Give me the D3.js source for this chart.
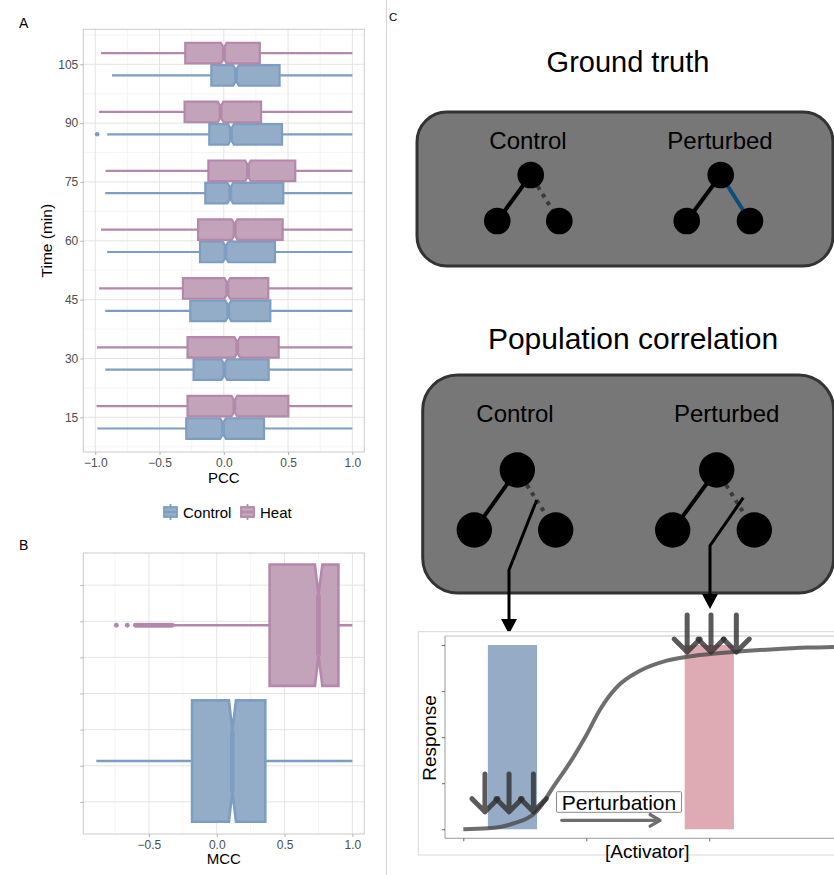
<!DOCTYPE html>
<html>
<head>
<meta charset="utf-8">
<script src="https://cdn.jsdelivr.net/npm/d3@7"></script>
<style>
  body { margin: 0; background: #fff; }
  svg { display: block; font-family: "Liberation Sans", Arial, sans-serif; }
</style>
</head>
<body>
<div id="chart"></div>
<script>
// ---- Panel A: PCC by time point (notched boxplots) ----
const times = [15, 30, 45, 60, 75, 90, 105];
const ctrlLow = [-0.984, -0.922, -0.922, -0.907, -0.922, -0.907, -0.870];
const ctrlQ1 = [-0.292, -0.235, -0.261, -0.185, -0.144, -0.113, -0.097];
const ctrlMed = [-0.006, 0.004, 0.035, 0.014, 0.050, 0.056, 0.095];
const ctrlQ3 = [0.313, 0.349, 0.362, 0.398, 0.463, 0.453, 0.434];
const ctrlHigh = [1, 1, 1, 1, 1, 1, 1];
const heatLow = [-0.990, -0.987, -0.970, -0.956, -0.920, -0.970, -0.956];
const heatQ1 = [-0.282, -0.282, -0.318, -0.200, -0.120, -0.305, -0.300];
const heatMed = [0.082, 0.105, 0.027, 0.084, 0.188, -0.025, 0.000];
const heatQ3 = [0.502, 0.427, 0.346, 0.458, 0.556, 0.290, 0.280];
const heatHigh = [1, 1, 1, 1, 1, 1, 1];
const ctrlOutTime = [90];
const ctrlOutPcc = [-0.985];

// ---- Panel B: MCC ----
const mccGroups = ['Control', 'Heat'];
const mccPos = [2.13, 5.89];
const mccLow = [-0.888, -0.320];
const mccQ1 = [-0.182, 0.390];
const mccMed = [0.115, 0.750];
const mccQ3 = [0.358, 0.897];
const mccHigh = [1.0, 1.0];
const mccNotchLo = [0.090, 0.724];
const mccNotchHi = [0.142, 0.779];
const heatMccOutliers = [-0.74, -0.66, -0.60, -0.59, -0.58, -0.57, -0.56, -0.55, -0.54, -0.53,
  -0.52, -0.51, -0.50, -0.49, -0.48, -0.47, -0.46, -0.45, -0.44, -0.43, -0.42, -0.41,
  -0.40, -0.39, -0.38, -0.37, -0.36, -0.35, -0.34, -0.33];

// ---- Panel C: dose response sketch ----
const curveX = [0, 1, 2, 3, 3.66, 4.47, 5, 5.56, 6.23, 7.18, 8.27, 9.62, 11.1, 12.5, 14.0, 15.1];
const curveY = [0, 0.005, 0.03, 0.10, 0.23, 0.39, 0.51, 0.65, 0.77, 0.86, 0.915, 0.946, 0.964, 0.976, 0.986, 0.99];
const ctrlBand = [1.0, 3.0];
const pertBand = [9.0, 11.0];
const ctrlArrowX = [0.88, 1.86, 2.85];
const pertArrowX = [9.1, 10.07, 11.1];

const colors = {
  ctrlFill: '#93acc7', ctrlStroke: '#7d9ec2',
  heatFill: '#c3a3ba', heatStroke: '#b388ab'
};

const W = 834, H = 875;
const svg = d3.select('#chart').append('svg').attr('width', W).attr('height', H);

// divider between left and right halves
svg.append('line')
  .attr('x1', 386.5).attr('x2', 386.5).attr('y1', 0).attr('y2', H)
  .attr('stroke', '#d6d6d6').attr('stroke-width', 1);

/**
 * Horizontal notched boxplot
 */
function notchBox(g, x, yc, h, s, fill, stroke, sw) {
  g.append('line')
    .attr('x1', x(s.low)).attr('x2', x(s.q1)).attr('y1', yc).attr('y2', yc)
    .attr('stroke', stroke).attr('stroke-width', sw);
  g.append('line')
    .attr('x1', x(s.q3)).attr('x2', x(s.high)).attr('y1', yc).attr('y2', yc)
    .attr('stroke', stroke).attr('stroke-width', sw);
  const p = d3.path();
  p.moveTo(x(s.q1), yc - h);
  p.lineTo(x(s.nlo), yc - h);
  p.lineTo(x(s.med), yc - h / 2);
  p.lineTo(x(s.nhi), yc - h);
  p.lineTo(x(s.q3), yc - h);
  p.lineTo(x(s.q3), yc + h);
  p.lineTo(x(s.nhi), yc + h);
  p.lineTo(x(s.med), yc + h / 2);
  p.lineTo(x(s.nlo), yc + h);
  p.lineTo(x(s.q1), yc + h);
  p.closePath();
  g.append('path').attr('d', p.toString())
    .attr('fill', fill).attr('stroke', stroke).attr('stroke-width', sw)
    .attr('stroke-linejoin', 'miter');
  g.append('line')
    .attr('x1', x(s.med)).attr('x2', x(s.med)).attr('y1', yc - h / 2).attr('y2', yc + h / 2)
    .attr('stroke', stroke).attr('stroke-width', sw * 1.8);
}

function styleAxis(g) {
  g.select('.domain').remove();
  g.selectAll('.tick line').attr('stroke', '#b3b3b3');
  g.selectAll('.tick text').attr('fill', '#4d4d4d').attr('font-size', 12)
    .attr('font-family', '"Liberation Sans", Arial, sans-serif');
}

// ================= Panel A =================
const aP = { left: 83.3, right: 364.3, top: 29.3, bottom: 452 };
const ax = d3.scaleLinear().domain([-1.093, 1.093]).range([aP.left, aP.right]);
const ay = d3.scaleLinear().domain([6.16, 113.92]).range([aP.bottom, aP.top]);
const gA = svg.append('g');

const minorX = [-0.75, -0.25, 0.25, 0.75];
const minorT = d3.range(7.5, 113, 15);
gA.selectAll('.mx').data(minorX).join('line')
  .attr('x1', d => ax(d)).attr('x2', d => ax(d)).attr('y1', aP.top).attr('y2', aP.bottom)
  .attr('stroke', '#f1f1f1').attr('stroke-width', 0.8);
gA.selectAll('.my').data(minorT).join('line')
  .attr('y1', d => ay(d)).attr('y2', d => ay(d)).attr('x1', aP.left).attr('x2', aP.right)
  .attr('stroke', '#f1f1f1').attr('stroke-width', 0.8);
gA.selectAll('.gx').data(ax.ticks(5)).join('line')
  .attr('x1', d => ax(d)).attr('x2', d => ax(d)).attr('y1', aP.top).attr('y2', aP.bottom)
  .attr('stroke', '#e4e4e4').attr('stroke-width', 1);
gA.selectAll('.gy').data(times).join('line')
  .attr('y1', d => ay(d)).attr('y2', d => ay(d)).attr('x1', aP.left).attr('x2', aP.right)
  .attr('stroke', '#e4e4e4').attr('stroke-width', 1);

const dodge = 2.85;
const aHalf = ay(0) - ay(2.62);
const aNotch = 0.022;
times.forEach((t, i) => {
  notchBox(gA, ax, ay(t - dodge), aHalf, {
    low: ctrlLow[i], q1: ctrlQ1[i], med: ctrlMed[i], q3: ctrlQ3[i], high: ctrlHigh[i],
    nlo: ctrlMed[i] - aNotch, nhi: ctrlMed[i] + aNotch
  }, colors.ctrlFill, colors.ctrlStroke, 2.2);
  notchBox(gA, ax, ay(t + dodge), aHalf, {
    low: heatLow[i], q1: heatQ1[i], med: heatMed[i], q3: heatQ3[i], high: heatHigh[i],
    nlo: heatMed[i] - aNotch, nhi: heatMed[i] + aNotch
  }, colors.heatFill, colors.heatStroke, 2.2);
});
gA.selectAll('.out').data(ctrlOutTime).join('circle')
  .attr('cx', (d, i) => ax(ctrlOutPcc[i])).attr('cy', d => ay(d - dodge))
  .attr('r', 2.3).attr('fill', colors.ctrlStroke);

gA.append('rect')
  .attr('x', aP.left).attr('y', aP.top)
  .attr('width', aP.right - aP.left).attr('height', aP.bottom - aP.top)
  .attr('fill', 'none').attr('stroke', '#cacaca').attr('stroke-width', 1);

gA.append('g').attr('transform', `translate(${aP.left},0)`)
  .call(d3.axisLeft(ay).tickValues(times).tickSize(3).tickPadding(2))
  .call(styleAxis);
gA.append('g').attr('transform', `translate(0,${aP.bottom})`)
  .call(d3.axisBottom(ax).ticks(5).tickFormat(d3.format('.1f')).tickSize(3).tickPadding(3))
  .call(styleAxis);

gA.append('text').attr('x', (aP.left + aP.right) / 2).attr('y', 483)
  .attr('text-anchor', 'middle').attr('font-size', 15).text('PCC');
gA.append('text')
  .attr('transform', `translate(52,${(aP.top + aP.bottom) / 2}) rotate(-90)`)
  .attr('text-anchor', 'middle').attr('font-size', 15.5).text('Time (min)');

// legend
const legend = [
  { name: 'Control', fill: colors.ctrlFill, stroke: colors.ctrlStroke, x: 163 },
  { name: 'Heat', fill: colors.heatFill, stroke: colors.heatStroke, x: 240 }
];
legend.forEach(l => {
  const lg = gA.append('g').attr('transform', `translate(${l.x},504)`);
  lg.append('line').attr('x1', 7.5).attr('x2', 7.5).attr('y1', 0).attr('y2', 16)
    .attr('stroke', l.stroke).attr('stroke-width', 1.8);
  lg.append('rect').attr('x', 1).attr('y', 3).attr('width', 13).attr('height', 10)
    .attr('fill', l.fill).attr('stroke', l.stroke).attr('stroke-width', 1.8);
  lg.append('line').attr('x1', 1).attr('x2', 14).attr('y1', 8).attr('y2', 8)
    .attr('stroke', l.stroke).attr('stroke-width', 1.8);
  lg.append('text').attr('x', 20).attr('y', 13.5).attr('font-size', 15).text(l.name);
});

// ================= Panel B =================
const bP = { left: 83.3, right: 364.3, top: 553, bottom: 834 };
const bx = d3.scaleLinear().domain([-0.984, 1.088]).range([bP.left, bP.right]);
const by = d3.scaleLinear().domain([0.11, 7.89]).range([bP.bottom, bP.top]);
const gB = svg.append('g');
const bGridY = [1, 2, 3, 4, 5, 6, 7];

gB.selectAll('.mx').data(minorX).join('line')
  .attr('x1', d => bx(d)).attr('x2', d => bx(d)).attr('y1', bP.top).attr('y2', bP.bottom)
  .attr('stroke', '#f1f1f1').attr('stroke-width', 0.8);
gB.selectAll('.gx').data([-0.5, 0, 0.5, 1]).join('line')
  .attr('x1', d => bx(d)).attr('x2', d => bx(d)).attr('y1', bP.top).attr('y2', bP.bottom)
  .attr('stroke', '#e4e4e4').attr('stroke-width', 1);
gB.selectAll('.gy').data(bGridY).join('line')
  .attr('y1', d => by(d)).attr('y2', d => by(d)).attr('x1', bP.left).attr('x2', bP.right)
  .attr('stroke', '#e4e4e4').attr('stroke-width', 1);

const bHalf = by(0) - by(1.68);
mccGroups.forEach((grp, i) => {
  const heat = grp === 'Heat';
  notchBox(gB, bx, by(mccPos[i]), bHalf, {
    low: mccLow[i], q1: mccQ1[i], med: mccMed[i], q3: mccQ3[i], high: mccHigh[i],
    nlo: mccNotchLo[i], nhi: mccNotchHi[i]
  }, heat ? colors.heatFill : colors.ctrlFill, heat ? colors.heatStroke : colors.ctrlStroke, 2.6);
});
gB.selectAll('.out').data(heatMccOutliers).join('circle')
  .attr('cx', d => bx(d)).attr('cy', by(mccPos[1]))
  .attr('r', 2.4).attr('fill', colors.heatStroke);

gB.append('rect')
  .attr('x', bP.left).attr('y', bP.top)
  .attr('width', bP.right - bP.left).attr('height', bP.bottom - bP.top)
  .attr('fill', 'none').attr('stroke', '#cacaca').attr('stroke-width', 1);
gB.append('g').attr('transform', `translate(${bP.left},0)`)
  .call(d3.axisLeft(by).tickValues(bGridY).tickFormat('').tickSize(3))
  .call(styleAxis);
gB.append('g').attr('transform', `translate(0,${bP.bottom})`)
  .call(d3.axisBottom(bx).tickValues([-0.5, 0, 0.5, 1]).tickFormat(d3.format('.1f')).tickSize(3).tickPadding(3))
  .call(styleAxis);
gB.append('text').attr('x', (bP.left + bP.right) / 2).attr('y', 864)
  .attr('text-anchor', 'middle').attr('font-size', 15).text('MCC');

// panel labels
svg.append('text').attr('x', 19).attr('y', 28).attr('font-size', 14).text('A');
svg.append('text').attr('x', 19).attr('y', 550).attr('font-size', 14).text('B');
svg.append('text').attr('x', 389).attr('y', 21).attr('font-size', 11.5).text('C');

// ================= Panel C =================
const gC = svg.append('g');

function network(g, nodes, r, rightEdge) {
  const [top, left, right] = nodes;
  g.append('line').attr('x1', top[0]).attr('y1', top[1]).attr('x2', left[0]).attr('y2', left[1])
    .attr('stroke', '#000').attr('stroke-width', 4);
  const e = g.append('line').attr('x1', top[0]).attr('y1', top[1]).attr('x2', right[0]).attr('y2', right[1])
    .attr('stroke-width', 4);
  if (rightEdge === 'dotted') {
    e.attr('stroke', '#3a3a3a').attr('stroke-dasharray', '4 5').attr('stroke-dashoffset', -r);
  } else {
    e.attr('stroke', '#0e4d7b');
  }
  nodes.forEach(n => g.append('circle').attr('cx', n[0]).attr('cy', n[1]).attr('r', r).attr('fill', '#000'));
}

// Ground truth
gC.append('text').attr('x', 628).attr('y', 72).attr('text-anchor', 'middle')
  .attr('font-size', 29).text('Ground truth');
gC.append('rect').attr('x', 417).attr('y', 112).attr('width', 416).attr('height', 154)
  .attr('rx', 30).attr('fill', '#777777').attr('stroke', '#333').attr('stroke-width', 3);
gC.append('text').attr('x', 528).attr('y', 149).attr('text-anchor', 'middle').attr('font-size', 24).text('Control');
gC.append('text').attr('x', 720).attr('y', 149).attr('text-anchor', 'middle').attr('font-size', 24).text('Perturbed');
network(gC, [[530.7, 175], [497.3, 221], [559.3, 221]], 13.3, 'dotted');
network(gC, [[720.7, 175], [686.7, 221], [750, 221]], 13.3, 'blue');

// Population correlation
gC.append('text').attr('x', 633).attr('y', 349).attr('text-anchor', 'middle')
  .attr('font-size', 30).text('Population correlation');
gC.append('rect').attr('x', 422.7).attr('y', 375).attr('width', 411).attr('height', 218)
  .attr('rx', 35).attr('fill', '#777777').attr('stroke', '#333').attr('stroke-width', 3);
gC.append('text').attr('x', 515).attr('y', 421.5).attr('text-anchor', 'middle').attr('font-size', 24).text('Control');
gC.append('text').attr('x', 726.7).attr('y', 421.5).attr('text-anchor', 'middle').attr('font-size', 24).text('Perturbed');
network(gC, [[517.3, 470], [474.3, 530], [555.7, 530]], 17.7, 'dotted');
network(gC, [[716.7, 470], [672.7, 530], [754.3, 530]], 17.7, 'dotted');

// pointer arrows into the response plot
function pointer(pts, tip) {
  gC.append('path').attr('d', d3.line()(pts)).attr('fill', 'none')
    .attr('stroke', '#000').attr('stroke-width', 3);
  gC.append('path')
    .attr('d', `M${tip[0] - 8},${tip[1] - 15}L${tip[0] + 8},${tip[1] - 15}L${tip[0]},${tip[1]}Z`)
    .attr('fill', '#000');
}
pointer([[536.7, 500], [509, 570], [509, 621]], [509, 634]);
pointer([[743.3, 497.7], [710, 545.7], [710, 596]], [710, 609]);

// response plot
const cP = { left: 445, right: 834, top: 636, bottom: 838.3 };
const cx = d3.scaleLinear().domain([-0.744, 15.07]).range([cP.left, cP.right]);
const cy = d3.scaleLinear().domain([-0.049, 1.049]).range([cP.bottom, cP.top]);

gC.append('rect').attr('x', 418.3).attr('y', 631.7).attr('width', 420).attr('height', 223.3)
  .attr('fill', '#fff').attr('stroke', '#d9d9d9').attr('stroke-width', 1);
gC.append('line').attr('x1', cP.left).attr('x2', cP.right).attr('y1', cP.top).attr('y2', cP.top)
  .attr('stroke', '#c4c4c4');
gC.append('line').attr('x1', cP.left).attr('x2', cP.left).attr('y1', cP.top).attr('y2', cP.bottom)
  .attr('stroke', '#9a9a9a');
gC.append('line').attr('x1', cP.left).attr('x2', cP.right).attr('y1', cP.bottom).attr('y2', cP.bottom)
  .attr('stroke', '#9a9a9a');
gC.append('g').attr('transform', `translate(${cP.left},0)`)
  .call(d3.axisLeft(cy).tickValues([0, 0.25, 0.5, 0.75, 1]).tickFormat('').tickSize(3))
  .call(g => { g.select('.domain').remove(); g.selectAll('.tick line').attr('stroke', '#666'); });
gC.append('g').attr('transform', `translate(0,${cP.bottom})`)
  .call(d3.axisBottom(cx).tickValues([0, 5, 10]).tickFormat('').tickSize(3))
  .call(g => { g.select('.domain').remove(); g.selectAll('.tick line').attr('stroke', '#666'); });

gC.append('rect').attr('x', cx(ctrlBand[0])).attr('y', cy(1))
  .attr('width', cx(ctrlBand[1]) - cx(ctrlBand[0])).attr('height', cy(0) - cy(1))
  .attr('fill', '#95abc6');
gC.append('rect').attr('x', cx(pertBand[0])).attr('y', cy(1))
  .attr('width', cx(pertBand[1]) - cx(pertBand[0])).attr('height', cy(0) - cy(1))
  .attr('fill', '#deaab3');

const sig = d3.line().x(d => cx(d[0])).y(d => cy(d[1])).curve(d3.curveMonotoneX);
gC.append('path').attr('d', sig(d3.zip(curveX, curveY)))
  .attr('fill', 'none').attr('stroke', '#4a4a4a').attr('stroke-opacity', 0.8)
  .attr('stroke-width', 4);

function downArrow(v, rTop, rTip) {
  const x = cx(v), y0 = cy(rTop), y1 = cy(rTip);
  gC.append('path')
    .attr('d', `M${x},${y0}L${x},${y1}M${x - 13},${y1 - 13}L${x},${y1}L${x + 13},${y1 - 13}`)
    .attr('fill', 'none').attr('stroke', '#2b2b2b').attr('stroke-opacity', 0.78)
    .attr('stroke-width', 5).attr('stroke-linecap', 'round').attr('stroke-linejoin', 'round');
}
ctrlArrowX.forEach(v => downArrow(v, 0.30, 0.095));
pertArrowX.forEach(v => downArrow(v, 1.163, 0.962));

// perturbation label and arrow
gC.append('rect').attr('x', cx(3.79)).attr('y', 791.7).attr('width', cx(8.87) - cx(3.79)).attr('height', 20.6)
  .attr('fill', '#fff').attr('stroke', '#8a8a8a').attr('stroke-width', 1).attr('rx', 1);
gC.append('text').attr('x', (cx(3.79) + cx(8.87)) / 2).attr('y', 809.5).attr('text-anchor', 'middle')
  .attr('font-size', 21).text('Perturbation');
gC.append('path')
  .attr('d', `M${cx(4.0)},820.3L${cx(8.0)},820.3M${cx(8.0) - 10},814.5L${cx(8.0)},820.3L${cx(8.0) - 10},826.1`)
  .attr('fill', 'none').attr('stroke', '#6e6e6e').attr('stroke-width', 3.2)
  .attr('stroke-linecap', 'round').attr('stroke-linejoin', 'round');

gC.append('text').attr('transform', `translate(435.5,738) rotate(-90)`)
  .attr('text-anchor', 'middle').attr('font-size', 19).text('Response');
gC.append('text').attr('x', 647.3).attr('y', 857.5).attr('text-anchor', 'middle')
  .attr('font-size', 19).text('[Activator]');
</script>
</body>
</html>
